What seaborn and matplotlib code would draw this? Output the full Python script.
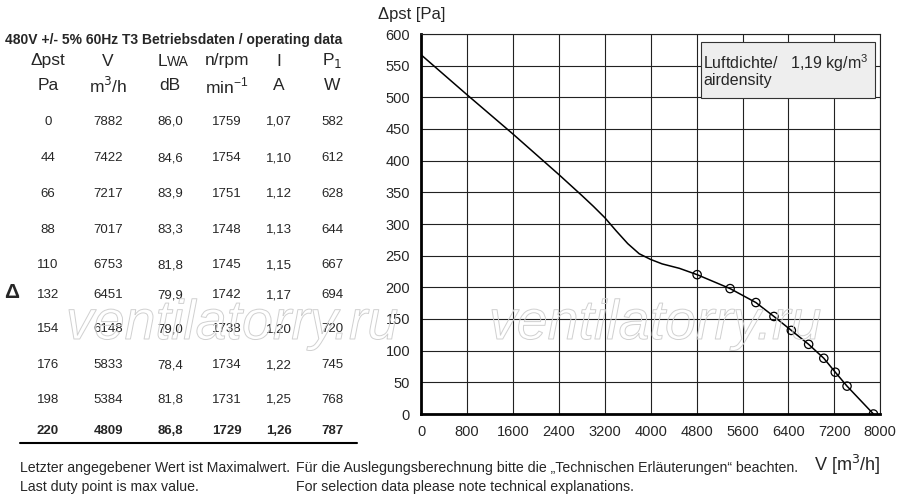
import numpy as np
import pandas as pd
import seaborn as sb
from matplotlib import pyplot as plt
import matplotlib.patheffects as pe

# operating data table (480V 60Hz)
dpst = [0, 44, 66, 88, 110, 132, 154, 176, 198, 220]
volume = [7882, 7422, 7217, 7017, 6753, 6451, 6148, 5833, 5384, 4809]
lwa = ['86,0', '84,6', '83,9', '83,3', '81,8', '79,9', '79,0', '78,4', '81,8', '86,8']
rpm = [1759, 1754, 1751, 1748, 1745, 1742, 1738, 1734, 1731, 1729]
current = ['1,07', '1,10', '1,12', '1,13', '1,15', '1,17', '1,20', '1,22', '1,25', '1,26']
power = [582, 612, 628, 644, 667, 694, 720, 745, 768, 787]

# fan curve
curve_v = [0, 800, 1600, 2400, 2800, 3000, 3200, 3400, 3600, 3800, 4000, 4200, 4500, 4809,
           5384, 5833, 6148, 6451, 6753, 7017, 7217, 7422, 7882]
curve_p = [567, 504, 442, 378, 345, 328, 310, 289, 269, 253, 244, 237, 230, 220,
           198, 176, 154, 132, 110, 88, 66, 44, 0]

xticks = list(range(0, 8001, 800))
yticks = list(range(0, 601, 50))

sb.set_style('white')
plt.rcParams['font.family'] = ['Liberation Sans', 'DejaVu Sans']

fig = plt.figure(figsize=(9, 5), dpi=100)
ax = fig.add_axes([0.468, 0.172, 0.510, 0.760])

curve = pd.DataFrame({'V': curve_v, 'p': curve_p})
points = pd.DataFrame({'V': volume, 'p': dpst})
sb.lineplot(data=curve, x='V', y='p', color='black', linewidth=1.1, ax=ax, sort=False)
sb.scatterplot(data=points, x='V', y='p', ax=ax, s=36, marker='o',
               facecolor='none', edgecolor='black', linewidth=0.9, zorder=5)

ax.set_xlim(0, 8000)
ax.set_ylim(0, 600)
ax.set_xticks(xticks)
ax.set_yticks(yticks)
ax.grid(True, color='#222222', linewidth=0.8)
ax.tick_params(labelsize=10.5, length=0, pad=8)
for s in ['top', 'right']:
    ax.spines[s].set_color('#222222')
    ax.spines[s].set_linewidth(0.8)
for s in ['left', 'bottom']:
    ax.spines[s].set_color('black')
    ax.spines[s].set_linewidth(2)
ax.set_xlabel('')
ax.set_ylabel('')

fig.text(378 / 900, 1 - 14 / 500, 'Δpst [Pa]', fontsize=12, va='center', ha='left')
fig.text(880 / 900, 1 - 465 / 500, 'V [m$^3$/h]', fontsize=13, va='center', ha='right')

# air density box
ax.add_patch(plt.Rectangle((0.610, 0.832), 0.379, 0.147, transform=ax.transAxes,
                           facecolor='#eeeeee', edgecolor='#333333', linewidth=0.8, zorder=6))
ax.text(0.614, 0.924, 'Luftdichte/   1,19 kg/m$^{\\mathregular{3}}$', transform=ax.transAxes,
        fontsize=11.5, va='center', ha='left', zorder=7)
ax.text(0.614, 0.877, 'airdensity', transform=ax.transAxes,
        fontsize=11.5, va='center', ha='left', zorder=7)

# table
fig.text(5 / 900, 1 - 40 / 500, '480V +/- 5% 60Hz T3 Betriebsdaten / operating data',
         fontsize=10, fontweight='bold', va='center', ha='left')
col_x = [48, 108, 170, 227, 279, 332]
head1 = ['Δpst', 'V', '', 'n/rpm', 'I', 'P$_1$']
head2 = ['Pa', 'm$^3$/h', 'dB', 'min$^{\\mathregular{-1}}$', 'A', 'W']
for x, h1, h2 in zip(col_x, head1, head2):
    fig.text(x / 900, 1 - 61 / 500, h1, fontsize=12.5, ha='center', va='center')
    fig.text(x / 900, 1 - 86 / 500, h2, fontsize=12.5, ha='center', va='center')
fig.text(167 / 900, 1 - 66 / 500, 'L', fontsize=12.5, ha='right', va='baseline')
fig.text(167 / 900, 1 - 66 / 500, 'WA', fontsize=10, ha='left', va='baseline')

row_y = [122, 158, 194, 230, 265, 295, 329, 365, 400, 431]
for i, y in enumerate(row_y):
    vals = [dpst[i], volume[i], lwa[i], rpm[i], current[i], power[i]]
    w = 'bold' if i == len(row_y) - 1 else 'normal'
    for x, v in zip(col_x, vals):
        fig.text(x / 900, 1 - y / 500, str(v), fontsize=9.5, ha='center', va='center', fontweight=w)
fig.add_artist(plt.Line2D([20 / 900, 357 / 900], [1 - 443 / 500] * 2, color='black', linewidth=1.5))
fig.text(12 / 900, 1 - 292 / 500, 'Δ', fontsize=15, fontweight='bold', ha='center', va='center')

# footer
fig.text(20 / 900, 1 - 468 / 500, 'Letzter angegebener Wert ist Maximalwert.', fontsize=10.2, va='center')
fig.text(20 / 900, 1 - 487 / 500, 'Last duty point is max value.', fontsize=10.2, va='center')
fig.text(296 / 900, 1 - 468 / 500, 'Für die Auslegungsberechnung bitte die „Technischen Erläuterungen“ beachten.',
         fontsize=10.2, va='center')
fig.text(296 / 900, 1 - 487 / 500, 'For selection data please note technical explanations.', fontsize=10.2, va='center')

# watermark
for cx in [232, 655]:
    fig.text(cx / 900, 1 - 325 / 500, 'ventilatorry.ru', fontsize=40, style='italic', color='none',
             ha='center', va='center', zorder=10,
             path_effects=[pe.Stroke(linewidth=0.7, foreground='#d0d0d0')])

fig.savefig('out.png', dpi=100)
